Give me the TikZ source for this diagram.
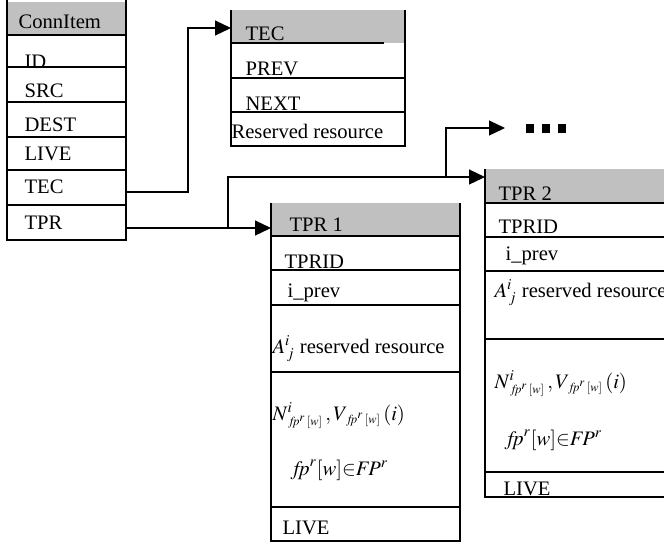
\documentclass[tikz,border=0pt]{standalone}
\usepackage{mathptmx}
\usepackage{fontspec}
\setmainfont{Liberation Serif}
\usetikzlibrary{arrows.meta}
\definecolor{hdrgray}{RGB}{192,192,192}
\newcommand{\fpsub}{\hspace{2pt}\scriptscriptstyle\mathit{fp}^{r}\,[w]}

\begin{document}
\begin{tikzpicture}[x=0.5pt, y=-0.5pt, line width=0.6pt,
    >={Triangle[length=8pt, width=7.5pt]},
    txt/.style={anchor=base west, inner sep=0pt, font=\fontsize{10.3}{12}\selectfont},
    hdr/.style={fill=hdrgray}]
    \useasboundingbox (0,0) rectangle (664,543);
    \clip (0,0) rectangle (664,543);

    % ConnItem table
    \fill[hdr] (7,2) rectangle (126,35);
    \draw (7,0) -- (7,240) -- (126,240) -- (126,0);
    \foreach \y in {35,67,102,137,170,205}
        \draw (7,\y) -- (126,\y);
    \node[txt] (ci-head) at (18,28) {ConnItem};
    \foreach \t/\y in {ID/68, SRC/97, DEST/131, LIVE/160, TEC/193, TPR/229}
        \node[txt] (ci-\t) at (24,\y) {\t};

    % TEC table
    \fill[hdr] (231,10) rectangle (405,43);
    \draw (231,10) -- (231,146) -- (405,146) -- (405,10);
    \draw (231,43) -- (384,43);
    \foreach \y in {78,112}
        \draw (231,\y) -- (405,\y);
    \node[txt] (tec-head) at (245,40) {TEC};
    \node[txt] (tec-prev) at (245,75) {PREV};
    \node[txt] (tec-next) at (245,110) {NEXT};
    \node[txt] (tec-res) at (231,138) {Reserved resource};

    % TPR 1 table
    \fill[hdr] (271,203) rectangle (460,236);
    \draw (271,203) -- (271,541) -- (460,541) -- (460,203);
    \foreach \y in {236,270,305,372,507}
        \draw (271,\y) -- (460,\y);
    \node[txt] (tpr1-head) at (289,231) {TPR 1};
    \node[txt] (tpr1-id) at (284,268) {TPRID};
    \node[txt] (tpr1-prev) at (287,297) {i\_prev};
    \node[txt] (tpr1-res) at (272,353) {$A^{i}_{\,j}$ reserved resource};
    \node[txt] (tpr1-nv) at (272,420) {$N^{i}_{\fpsub}\,,V_{\fpsub}\,(i)$};
    \node[txt] (tpr1-fp) at (293,475) {$\mathit{fp}^{r}[w]{\in}\mathit{FP}^{r}$};
    \node[txt] (tpr1-live) at (282,534) {LIVE};

    % TPR 2 table
    \fill[hdr] (485,169) rectangle (670,203);
    \draw (485,169) -- (485,497) -- (670,497);
    \foreach \y in {203,237,271,339,472}
        \draw (485,\y) -- (670,\y);
    \node[txt] (tpr2-head) at (498,200) {TPR 2};
    \node[txt] (tpr2-id) at (498,233) {TPRID};
    \node[txt] (tpr2-prev) at (505,260) {i\_prev};
    \node[txt] (tpr2-res) at (494,297) {$A^{i}_{\,j}$ reserved resource};
    \node[txt] (tpr2-nv) at (494,388) {$N^{i}_{\fpsub}\,,V_{\fpsub}\,(i)$};
    \node[txt] (tpr2-fp) at (507,445) {$\mathit{fp}^{r}[w]{\in}\mathit{FP}^{r}$};
    \node[txt] (tpr2-live) at (503,495) {LIVE};

    % Ports and targets
    \coordinate (ci-tec-out) at (126,192);
    \coordinate (ci-tpr-out) at (126,228);
    \coordinate (tec-in) at (231,28);
    \coordinate (tpr1-in) at (271,228);
    \coordinate (tpr2-in) at (485,177);
    \coordinate (split1) at (228,228);
    \coordinate (split2) at (446,177);
    \node[anchor=west, inner sep=0pt] (more) at (525,128)
        {\rule{4pt}{4.5pt}\hspace{4.25pt}\rule{4pt}{4.5pt}\hspace{4pt}\rule{4pt}{4.5pt}};

    % Links
    \draw[->] (ci-tec-out) -- ++(62,0) |- (tec-in);
    \draw[->] (ci-tpr-out) -- (tpr1-in);
    \draw[->] (split1) |- (tpr2-in);
    \draw[->, shorten >=10pt] (split2) |- (more.west);
\end{tikzpicture}
\end{document}
